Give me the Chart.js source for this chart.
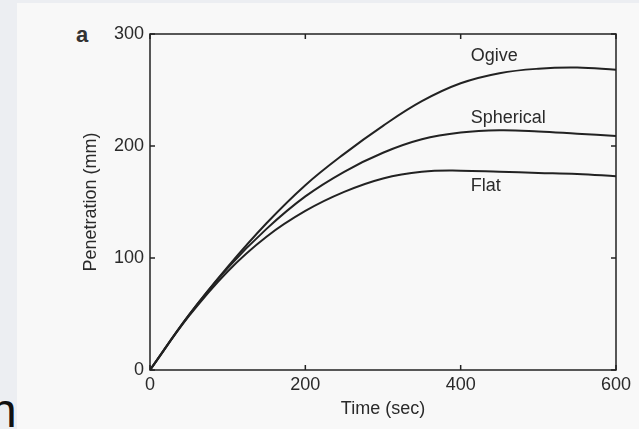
<!DOCTYPE html>
<html>
<head>
<meta charset="utf-8">
<script src="https://cdn.jsdelivr.net/npm/chart.js@4.4.1/dist/chart.umd.min.js"></script>
<style>
  html, body { margin: 0; padding: 0; }
  body { width: 639px; height: 429px; background: #eceef2; position: relative; overflow: hidden; font-family: "Liberation Sans", Arial, sans-serif; }
  #panel { position: absolute; left: 17px; top: 3px; width: 622px; height: 426px; background: #f8f8f8; }
  #wrap { position: absolute; left: 0; top: 0; width: 639px; height: 429px; }
  #tag { position: absolute; left: 76px; top: 22px; font-size: 22px; font-weight: bold; color: #333; }
  #edge { position: absolute; left: -10px; top: 387px; font-size: 48px; line-height: 48px; color: #111; }
</style>
</head>
<body>
<div id="panel"></div>
<div id="tag">a</div>
<div id="edge">n</div>
<div id="wrap"><canvas id="chart" width="639" height="429"></canvas></div>
<script>
  const times = [0, 50, 100, 150, 200, 250, 300, 350, 400, 450, 500, 550, 600];
  const ogive = [0, 49, 92, 131, 165, 193, 218, 240, 256, 265, 269, 270, 268];
  const spherical = [0, 49, 91, 126, 155, 177, 194, 206, 212, 214, 213, 211, 209];
  const flat = [0, 48, 88, 119, 142, 159, 171, 177, 178, 177, 176, 175, 173];

  const curveNames = ["Ogive", "Spherical", "Flat"];
  const curveLabelTime = [413, 413, 413];
  const curveLabelValue = [280, 225, 164];

  const xTicks = [0, 200, 400, 600];
  const yTicks = [0, 100, 200, 300];

  const ink = "#222";
  const font = { family: "'Liberation Sans', Arial, sans-serif", size: 18 };

  function series(values) {
    return {
      data: times.map((t, i) => ({ x: t, y: values[i] })),
      borderColor: ink,
      borderWidth: 2,
      pointRadius: 0,
      fill: false,
      tension: 0.4
    };
  }

  // box frame, inward ticks and curve names
  const framePlugin = {
    id: "frame",
    afterDatasetsDraw(chart) {
      const { ctx, chartArea: a, scales } = chart;
      ctx.save();
      ctx.strokeStyle = ink;
      ctx.lineWidth = 1.5;
      ctx.strokeRect(a.left, a.top, a.right - a.left, a.bottom - a.top);
      ctx.beginPath();
      xTicks.forEach(v => {
        const px = scales.x.getPixelForValue(v);
        ctx.moveTo(px, a.bottom); ctx.lineTo(px, a.bottom - 5);
        ctx.moveTo(px, a.top); ctx.lineTo(px, a.top + 5);
      });
      yTicks.forEach(v => {
        const py = scales.y.getPixelForValue(v);
        ctx.moveTo(a.left, py); ctx.lineTo(a.left + 5, py);
        ctx.moveTo(a.right, py); ctx.lineTo(a.right - 5, py);
      });
      ctx.stroke();

      ctx.fillStyle = "#2a2a2a";
      ctx.font = font.size + "px " + font.family;
      ctx.textAlign = "left";
      ctx.textBaseline = "middle";
      curveNames.forEach((name, i) => {
        ctx.fillText(name, scales.x.getPixelForValue(curveLabelTime[i]), scales.y.getPixelForValue(curveLabelValue[i]));
      });
      ctx.restore();
    }
  };

  new Chart(document.getElementById("chart"), {
    type: "line",
    data: { datasets: [series(ogive), series(spherical), series(flat)] },
    options: {
      responsive: false,
      animation: false,
      layout: { padding: { top: 34, right: 23, left: 0, bottom: 0 } },
      plugins: { legend: { display: false }, tooltip: { enabled: false } },
      scales: {
        x: {
          type: "linear",
          min: 0, max: 600,
          afterBuildTicks: s => { s.ticks = xTicks.map(v => ({ value: v })); },
          afterFit: s => { s.height = 59; },
          grid: { display: false, drawTicks: false },
          border: { display: false },
          ticks: { color: "#2a2a2a", font, padding: 4, maxRotation: 0 },
          title: { display: true, text: "Time (sec)", color: "#2a2a2a", font, padding: { top: 0, bottom: 9 } }
        },
        y: {
          type: "linear",
          min: 0, max: 300,
          afterBuildTicks: s => { s.ticks = yTicks.map(v => ({ value: v })); },
          afterFit: s => { s.width = 150; },
          grid: { display: false, drawTicks: false },
          border: { display: false },
          ticks: { color: "#2a2a2a", font, padding: 6 },
          title: { display: true, text: "Penetration (mm)", color: "#2a2a2a", font, padding: { top: 80, bottom: 0 } }
        }
      }
    },
    plugins: [framePlugin]
  });
</script>
</body>
</html>
